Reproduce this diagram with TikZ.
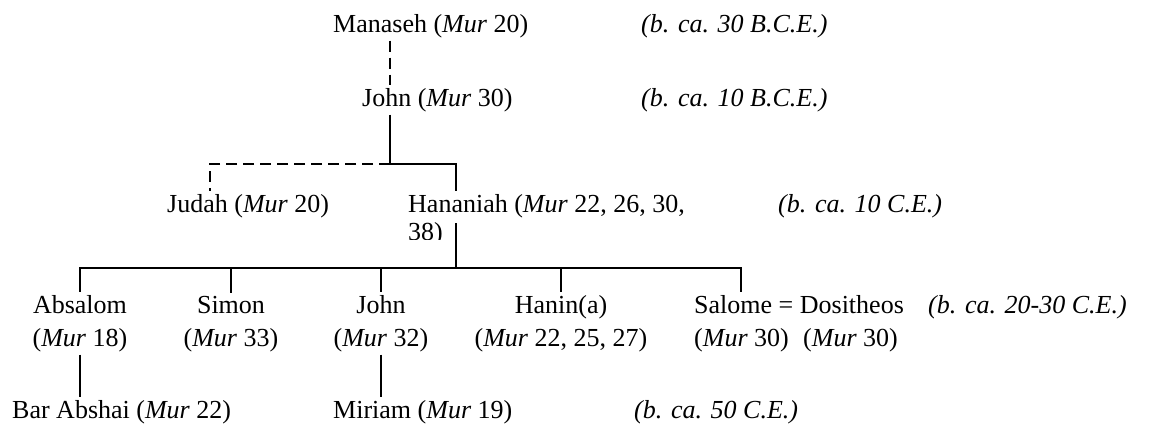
\documentclass[tikz,border=0pt]{standalone}
\usepackage{fontspec}
\setmainfont{Liberation Serif}
\begin{document}
\begin{tikzpicture}[x=1pt,y=-1pt,
  person/.style={inner sep=0pt, outer ysep=3pt, font=\fontsize{26}{31}\selectfont},
  era/.style={inner sep=0pt, anchor=base west, font=\fontsize{26}{31}\selectfont\itshape},
  link/.style={line width=2.2pt},
  doubtful/.style={link, dash pattern=on 11pt off 6pt}]
\useasboundingbox (0,0) rectangle (1165,424);

% generation 1 and 2
\node[person, anchor=base west] (manaseh) at (333,32) {Manaseh (\textit{Mur} 20)};
\node[era] (era1) at (641,32) {(b. ca. 30 B.C.E.)};
\node[person, anchor=base west] (john) at (362,106) {John (\textit{Mur} 30)};
\node[era] (era2) at (641,106) {(b. ca. 10 B.C.E.)};

% generation 3
\node[person, anchor=base west] (judah) at (167,212) {Judah (\textit{Mur} 20)};
\begin{scope}
  % the second line of Hananiah's entry is cut off at the bottom
  \clip (400,180) rectangle (700,239);
  \node[person, anchor=base west] (hananiah) at (408,212)
    {Hananiah (\textit{Mur} 22, 26, 30,};
  \node[person, anchor=base west] (hananiah2) at (408,240) {38)};
\end{scope}
\node[era] (era3) at (778,212) {(b. ca. 10 C.E.)};

% generation 4
\node[person, anchor=base] (absalom) at (80,313) {Absalom};
\node[person, anchor=base] (absalomref) at (80,346) {(\textit{Mur} 18)};
\node[person, anchor=base] (simon) at (231,313) {Simon};
\node[person, anchor=base] (simonref) at (231,346) {(\textit{Mur} 33)};
\node[person, anchor=base] (johnb) at (381,313) {John};
\node[person, anchor=base] (johnbref) at (381,346) {(\textit{Mur} 32)};
\node[person, anchor=base] (hanina) at (561,313) {Hanin(a)};
\node[person, anchor=base] (haninaref) at (561,346) {(\textit{Mur} 22, 25, 27)};
\node[person, anchor=base west] (salome) at (694,313) {Salome = Dositheos};
\node[person, anchor=base west] (salomeref) at (694,346) {(\textit{Mur} 30)};
\node[person, anchor=base west] (dositheosref) at (803,346) {(\textit{Mur} 30)};
\node[era] (era4) at (928,313) {(b. ca. 20-30 C.E.)};

% generation 5
\node[person, anchor=base west] (barabshai) at (12,418) {Bar Abshai (\textit{Mur} 22)};
\node[person, anchor=base west] (miriam) at (333,418) {Miriam (\textit{Mur} 19)};
\node[era] (era5) at (634,418) {(b. ca. 50 C.E.)};

% junction points and stems
\coordinate (j1) at (390,164);
\coordinate (j2) at (456,268);
\coordinate (hstem) at (456,223);
\coordinate (judahstem) at (210,0);
\coordinate (salomestem) at (741,0);

% connectors
\draw[doubtful] (manaseh.south -| j1) -- (john.north -| j1);
\draw[link] (john.south -| j1) -- (j1);
\draw[doubtful] (j1) -| (judah.north -| judahstem);
\draw[link] (j1) -| (hananiah.north -| hstem);
\draw[link] (hstem) -- (j2);
\draw[link] (absalom.north) |- (j2 -| salomestem) -- (salome.north -| salomestem);
\draw[link] (simon.north) -- (simon.north |- j2);
\draw[link] (johnb.north) -- (johnb.north |- j2);
\draw[link] (hanina.north) -- (hanina.north |- j2);
\draw[link] (absalomref.south) -- (barabshai.north -| absalomref.south);
\draw[link] (johnbref.south) -- (miriam.north -| johnbref.south);
\end{tikzpicture}
\end{document}
